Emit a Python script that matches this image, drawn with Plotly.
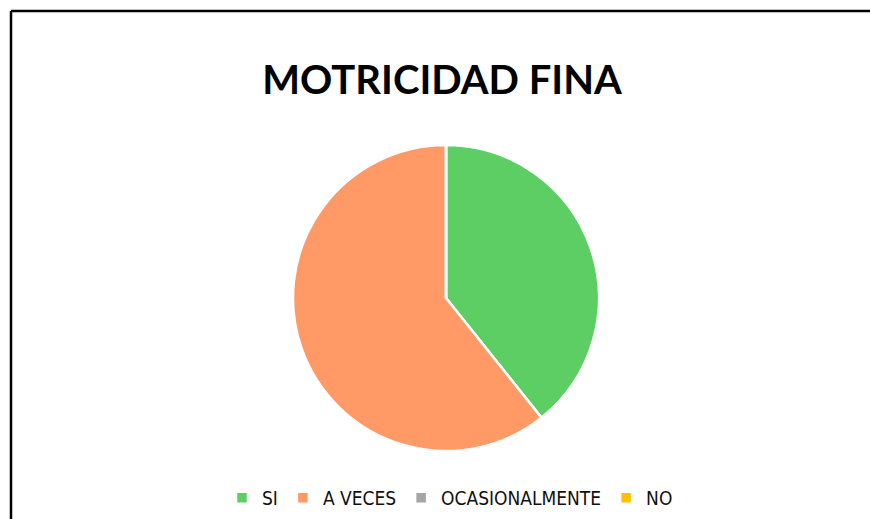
import plotly.graph_objects as go

# Data
categories = ["SI", "A VECES", "OCASIONALMENTE", "NO"]
values = [11, 17, 0, 0]
colors = ["#5dce63", "#ff9966", "#a5a5a5", "#ffc000"]

W, H = 870, 519

fig = go.Figure()

fig.add_trace(go.Pie(
    labels=categories,
    values=values,
    sort=False,
    direction="clockwise",
    rotation=0,
    marker=dict(colors=colors, line=dict(color="white", width=2.5)),
    textinfo="none",
    hoverinfo="label+value+percent",
    domain=dict(x=[293 / W, 599 / W], y=[1 - 451 / H, 1 - 145 / H]),
))

# frame: only the left and top edges are visible in the crop
left, top = 11 / W, 1 - 11 / H
fig.add_shape(type="line", xref="paper", yref="paper",
              x0=left, x1=left, y0=-0.02, y1=top,
              line=dict(color="black", width=2.5))
fig.add_shape(type="line", xref="paper", yref="paper",
              x0=left, x1=1.02, y0=top, y1=top,
              line=dict(color="black", width=2.5))

fig.update_layout(
    width=W,
    height=H,
    margin=dict(l=0, r=0, t=0, b=0),
    paper_bgcolor="white",
    plot_bgcolor="white",
    title=dict(text="<b>MOTRICIDAD FINA</b>", x=442 / W, xanchor="center",
               y=1 - 80 / H, yanchor="middle",
               font=dict(family="Lato", size=40, color="black")),
    legend=dict(orientation="h", x=450 / W, xanchor="center",
                y=1 - 498 / H, yanchor="middle",
                font=dict(family="DejaVu Sans Condensed", size=19, color="#111111"),
                traceorder="normal"),
    showlegend=True,
)

fig.write_html("out.html", config={"displayModeBar": False},
               post_script="document.body.style.margin='0';")
